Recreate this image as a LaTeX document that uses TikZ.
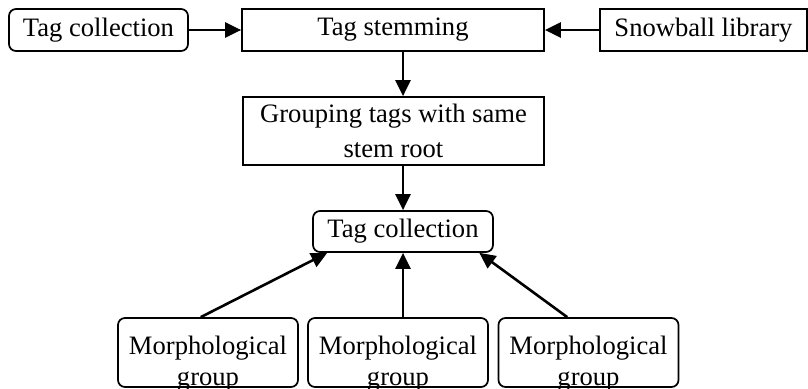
\documentclass[tikz,border=0pt]{standalone}
\usepackage{fontspec}
\setmainfont{Liberation Serif}
\usetikzlibrary{arrows.meta,calc}
\begin{document}
\begin{tikzpicture}[x=1pt,y=-1pt,
  box/.style={draw,line width=1.7pt,inner sep=0pt,minimum height=42pt,
    font=\fontsize{26.6}{31}\selectfont},
  rbox/.style={box,rounded corners=7pt},
  lbl/.style={inner sep=0pt,align=center,font=\fontsize{26.6}{31}\selectfont},
  arr/.style={line width=2.6pt,-{Triangle[length=16pt,width=15pt]}}]
\useasboundingbox (0,0) rectangle (808,388);

% top row
\node[rbox,minimum width=179pt] (tc1) at (98.5,30) {Tag collection};
\node[box,minimum width=302pt] (ts) at (393,30) {Tag stemming};
\node[box,minimum width=207pt] (sb) at (703.5,30) {Snowball library};

% grouping step
\node[box,minimum width=301pt,minimum height=68pt,align=center,
  font=\fontsize{26.6}{35}\selectfont] (grp) at (393.5,131)
  {Grouping tags with same\\stem root};

% resulting collection
\node[rbox,minimum width=180pt,minimum height=41pt] (tc2) at (403,231.5) {Tag collection};

% morphological groups
\foreach \n/\cx in {m1/208,m2/398,m3/588.5}{
  \node[rbox,minimum width=180pt,minimum height=69pt] (\n) at (\cx,352.5) {};
  \node[lbl] (\n t) at ($(\n.center)+(0,11)$) {Morphological\\group};
}

% connectors
\draw[arr] (tc1.east) -- (ts.west);
\draw[arr] (sb.west) -- (ts.east);
\draw[arr] (ts.south -| tc2) -- (grp.north -| tc2);
\draw[arr] (grp.south -| tc2) -- (tc2.north);
\draw[arr] ($(m1.north west)!0.46!(m1.north east)$) -- ($(tc2.south west)!0.083!(tc2.south east)$);
\draw[arr] (m2.north -| tc2) -- (tc2.south);
\draw[arr] ($(m3.north west)!0.383!(m3.north east)$) -- ($(tc2.south west)!0.92!(tc2.south east)$);
\end{tikzpicture}
\end{document}
